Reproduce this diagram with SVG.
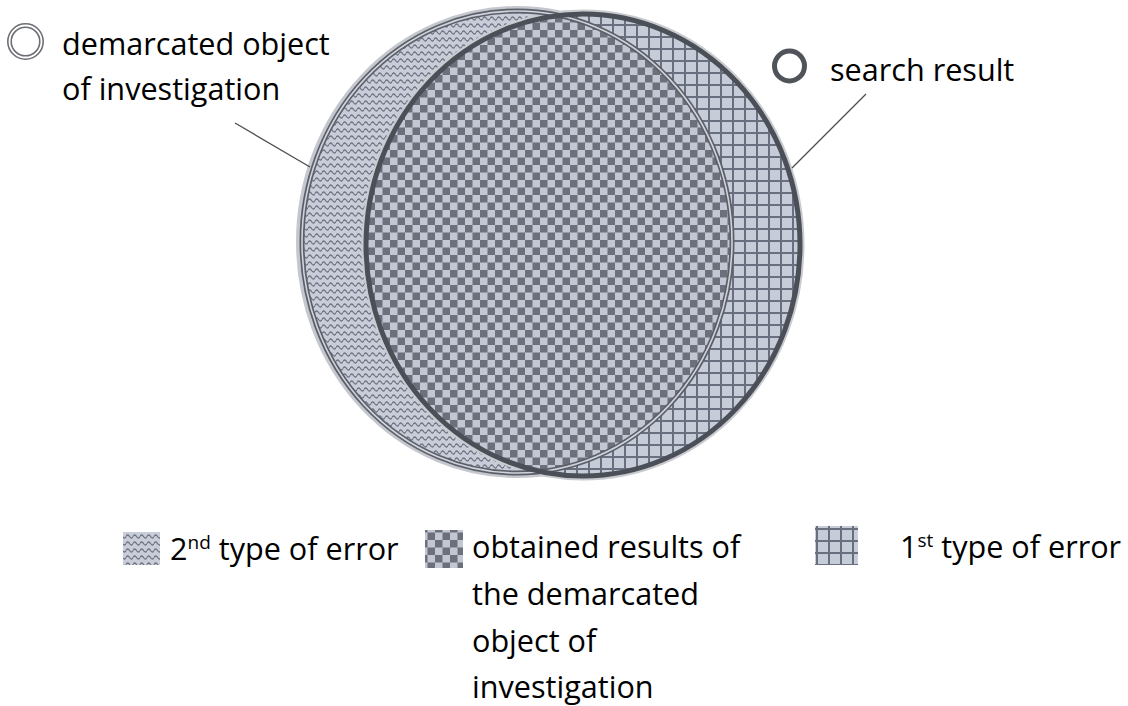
<svg xmlns="http://www.w3.org/2000/svg" width="1128" height="706" viewBox="0 0 1128 706">
  <style>
    .t { font-family: "Open Sans", "Liberation Sans", sans-serif; font-size: 30.6px; fill: #000; }
    .sup { font-size: 19px; }
    .leader { stroke: #4a4d52; stroke-width: 1.3; fill: none; }
  </style>
  <defs>
    <pattern id="wavy" patternUnits="userSpaceOnUse" width="7" height="7">
      <rect width="7" height="7" fill="#c9cdd9"/>
      <path d="M0 4.5 Q1.75 1.5 3.5 4.5 T7 4.5" fill="none" stroke="#6d7280" stroke-width="1.3"/>
    </pattern>
    <pattern id="checker" patternUnits="userSpaceOnUse" width="15" height="15">
      <rect width="15" height="15" fill="#c3c7d4"/>
      <rect width="7.5" height="7.5" fill="#6c707b"/>
      <rect x="7.5" y="7.5" width="7.5" height="7.5" fill="#6c707b"/>
    </pattern>
    <pattern id="grid" patternUnits="userSpaceOnUse" width="12" height="12">
      <rect width="12" height="12" fill="#c7ccd9"/>
      <path d="M0 1 H12 M1 0 V12" stroke="#6a6f7f" stroke-width="2"/>
    </pattern>
    <clipPath id="clipLeft">
      <ellipse cx="517" cy="242" rx="215" ry="231"/>
    </clipPath>
  </defs>

  <g id="node-demarcated-object">
    <ellipse cx="517" cy="242" rx="218" ry="233" fill="none" stroke="#c4c7ce" stroke-width="6"/>
    <ellipse cx="517" cy="242" rx="215" ry="231" fill="url(#wavy)"/>
  </g>

  <g id="node-search-result">
    <ellipse cx="583" cy="245" rx="217" ry="231" fill="none" stroke="#c9cbd0" stroke-width="9"/>
    <ellipse cx="583" cy="245" rx="217" ry="231" fill="url(#grid)"/>
  </g>

  <g id="node-intersection">
    <ellipse cx="583" cy="245" rx="217" ry="231" fill="url(#checker)" clip-path="url(#clipLeft)"/>
  </g>

  <g id="outlines">
    <ellipse cx="517" cy="242" rx="215" ry="231" fill="none" stroke="#5b5f68" stroke-width="5"/>
    <ellipse cx="517" cy="242" rx="215" ry="231" fill="none" stroke="#d0d3dc" stroke-width="1.6"/>
    <ellipse cx="583" cy="245" rx="217" ry="231" fill="none" stroke="#4b4f57" stroke-width="5"/>
  </g>

  <g id="connectors">
    <line class="leader" x1="235" y1="123" x2="310" y2="167"/>
    <line class="leader" x1="866" y1="94" x2="792" y2="168"/>
  </g>

  <g id="label-demarcated">
    <circle cx="25.5" cy="41.5" r="16" fill="none" stroke="#6d6f74" stroke-width="5"/>
    <circle cx="25.5" cy="41.5" r="16" fill="none" stroke="#ffffff" stroke-width="1.8"/>
    <text class="t" x="62" y="55">demarcated object</text>
    <text class="t" x="62" y="100">of investigation</text>
  </g>

  <g id="label-search">
    <circle cx="789.5" cy="66" r="15" fill="none" stroke="#505359" stroke-width="5"/>
    <text class="t" x="830" y="81">search result</text>
  </g>

  <g id="legend-2nd">
    <rect x="123" y="532" width="37" height="33" fill="url(#wavy)"/>
    <text class="t" x="170" y="560">2<tspan class="sup" dy="-11">nd</tspan><tspan dy="11"> type of error</tspan></text>
  </g>

  <g id="legend-obtained">
    <rect x="425" y="530" width="38" height="38" fill="url(#checker)"/>
    <text class="t" x="472" y="558">obtained results of</text>
    <text class="t" x="472" y="605">the demarcated</text>
    <text class="t" x="472" y="652">object of</text>
    <text class="t" x="472" y="698">investigation</text>
  </g>

  <g id="legend-1st">
    <rect x="815" y="526" width="43" height="39" fill="url(#grid)"/>
    <text class="t" x="900" y="558">1<tspan class="sup" dy="-11">st</tspan><tspan dy="11"> type of error</tspan></text>
  </g>
</svg>
